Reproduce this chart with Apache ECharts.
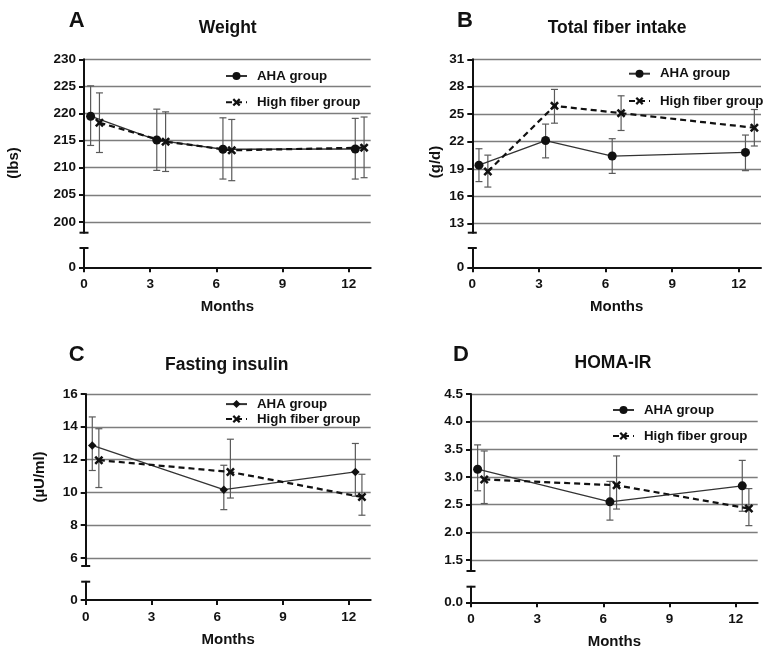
<!DOCTYPE html>
<html>
<head>
<meta charset="utf-8">
<script src="https://cdn.jsdelivr.net/npm/echarts@6/dist/echarts.min.js"></script>
<style>
  html, body { margin: 0; padding: 0; background: #fff; }
  #main { width: 773px; height: 656px; }
</style>
</head>
<body>
<div id="main"></div>
<script>
// visit months
var monthsAB = [0, 3, 6, 12];
var monthsCD = [0, 6, 12];
var monthTicks = [0, 3, 6, 9, 12];

// A - weight (lbs): mean, lower and upper error bar ends
var weightAha = [219.5, 215.1, 213.4, 213.45];
var weightAhaLo = [214.1, 209.5, 207.9, 207.9];
var weightAhaHi = [225.1, 220.8, 219.2, 219.1];
var weightHf = [218.3, 214.8, 213.2, 213.7];
var weightHfLo = [212.8, 209.3, 207.6, 208.15];
var weightHfHi = [223.8, 220.3, 218.9, 219.35];
var weightTicks = [200, 205, 210, 215, 220, 225, 230];

// B - total fiber intake (g/d)
var fiberAha = [19.4, 22.1, 20.4, 20.8];
var fiberAhaLo = [17.6, 20.2, 18.5, 18.8];
var fiberAhaHi = [21.2, 23.9, 22.3, 22.7];
var fiberHf = [18.7, 25.9, 25.1, 23.5];
var fiberHfLo = [17.0, 24.0, 23.2, 21.5];
var fiberHfHi = [20.5, 27.7, 27.0, 25.5];
var fiberTicks = [13, 16, 19, 22, 25, 28, 31];

// C - fasting insulin (uU/ml)
var insulinAha = [12.86, 10.16, 11.24];
var insulinAhaLo = [11.33, 8.94, 9.76];
var insulinAhaHi = [14.6, 11.65, 12.98];
var insulinHf = [11.96, 11.24, 9.71];
var insulinHfLo = [10.29, 9.65, 8.6];
var insulinHfHi = [13.88, 13.24, 11.1];
var insulinTicks = [6, 8, 10, 12, 14, 16];

// D - HOMA-IR
var homaAha = [3.14, 2.55, 2.84];
var homaAhaLo = [2.75, 2.22, 2.38];
var homaAhaHi = [3.58, 2.92, 3.3];
var homaHf = [2.955, 2.85, 2.43];
var homaHfLo = [2.52, 2.42, 2.12];
var homaHfHi = [3.47, 3.38, 2.79];
var homaTicks = [1.5, 2.0, 2.5, 3.0, 3.5, 4.0, 4.5];

var FONT = '"Liberation Sans", Arial, sans-serif';
var CROSS = 'path://M0,2 L2,0 L5,3 L8,0 L10,2 L7,5 L10,8 L8,10 L5,7 L2,10 L0,8 L3,5 Z';

var panels = [
    { key: 'A', title: 'Weight', unit: '(lbs)', months: monthsAB,
      aha: weightAha, ahaLo: weightAhaLo, ahaHi: weightAhaHi,
      hf: weightHf, hfLo: weightHfLo, hfHi: weightHfHi,
      ticks: weightTicks, yMin: 198, yMax: 230, digits: 0, ahaSymbol: 'circle', hfShift: 0.7,
      up: { left: 84, top: 59.3, width: 286.7, height: 173.4 }, low: { top: 248, height: 19.3 },
      letter: [76.7, 20.7], titlePos: [227.7, 28.3], unitPos: [14, 163],
      legend: { left: 225, top: 69.5, itemGap: 13.3 } },
    { key: 'B', title: 'Total fiber intake', unit: '(g/d)', months: monthsAB,
      aha: fiberAha, ahaLo: fiberAhaLo, ahaHi: fiberAhaHi,
      hf: fiberHf, hfLo: fiberHfLo, hfHi: fiberHfHi,
      ticks: fiberTicks, yMin: 12, yMax: 31, digits: 0, ahaSymbol: 'circle', hfShift: 0.7,
      up: { left: 472.3, top: 59.3, width: 288.7, height: 173.4 }, low: { top: 248, height: 19.3 },
      letter: [465, 20.7], titlePos: [617, 28.3], unitPos: [436, 162],
      legend: { left: 628, top: 67.2, itemGap: 14.2 } },
    { key: 'C', title: 'Fasting insulin', unit: '(\u00b5U/ml)', months: monthsCD,
      aha: insulinAha, ahaLo: insulinAhaLo, ahaHi: insulinAhaHi,
      hf: insulinHf, hfLo: insulinHfLo, hfHi: insulinHfHi,
      ticks: insulinTicks, yMin: 5.5, yMax: 16, digits: 0, ahaSymbol: 'diamond', hfShift: 0.6,
      up: { left: 85.7, top: 394, width: 285, height: 172 }, low: { top: 581.7, height: 18.3 },
      letter: [76.7, 355], titlePos: [226.7, 365], unitPos: [40, 477],
      legend: { left: 225, top: 397.6, itemGap: 2 } },
    { key: 'D', title: 'HOMA-IR', unit: '', months: monthsCD,
      aha: homaAha, ahaLo: homaAhaLo, ahaHi: homaAhaHi,
      hf: homaHf, hfLo: homaHfLo, hfHi: homaHfHi,
      ticks: homaTicks, yMin: 1.3, yMax: 4.5, digits: 1, ahaSymbol: 'circle', hfShift: 0.6,
      up: { left: 471, top: 394, width: 286.7, height: 177 }, low: { top: 586.7, height: 15.6 },
      letter: [461, 355], titlePos: [613, 363.3], unitPos: [0, 0],
      legend: { left: 612, top: 403.5, itemGap: 13 } }
];

var AHA_SHIFT = 0.3;

function points(months, values, shift) {
    return months.map(function (m, i) { return [m + shift, values[i]]; });
}
function bars(months, lo, hi, shift) {
    return months.map(function (m, i) { return [m + shift, lo[i], hi[i]]; });
}

function errorBar(params, api) {
    var x = api.value(0);
    var lo = api.coord([x, api.value(1)]);
    var hi = api.coord([x, api.value(2)]);
    var w = 3.5;
    var st = { stroke: '#5a5a5a', lineWidth: 1.2 };
    return {
        type: 'group',
        children: [
            { type: 'line', shape: { x1: lo[0], y1: lo[1], x2: hi[0], y2: hi[1] }, style: st },
            { type: 'line', shape: { x1: lo[0] - w, y1: lo[1], x2: lo[0] + w, y2: lo[1] }, style: st },
            { type: 'line', shape: { x1: hi[0] - w, y1: hi[1], x2: hi[0] + w, y2: hi[1] }, style: st }
        ]
    };
}

var grids = [], xAxes = [], yAxes = [], series = [], legends = [], graphics = [];
var axisLine = { show: true, lineStyle: { color: '#111', width: 2 } };
var labelStyle = { color: '#111', fontFamily: FONT, fontWeight: 'bold', fontSize: 13.5 };

panels.forEach(function (p, i) {
    var u = i * 2, l = i * 2 + 1;
    grids.push({ left: p.up.left, top: p.up.top, width: p.up.width, height: p.up.height, outerBoundsMode: 'none' });
    grids.push({ left: p.up.left, top: p.low.top, width: p.up.width, height: p.low.height, outerBoundsMode: 'none' });

    xAxes.push({ type: 'value', gridIndex: u, min: 0, max: 13, show: false });
    xAxes.push({
        type: 'value', gridIndex: l, min: 0, max: 13,
        name: 'Months', nameLocation: 'middle', nameGap: 32,
        nameTextStyle: { color: '#111', fontFamily: FONT, fontWeight: 'bold', fontSize: 15 },
        axisLine: axisLine,
        axisTick: { show: true, length: 5, customValues: monthTicks, lineStyle: { color: '#111', width: 2 } },
        axisLabel: Object.assign({ margin: 10, customValues: monthTicks }, labelStyle),
        splitLine: { show: false }
    });

    yAxes.push({
        type: 'value', gridIndex: u, min: p.yMin, max: p.yMax,
        axisLine: { show: true, symbol: ['rect', 'none'], symbolSize: [9, 2], lineStyle: { color: '#111', width: 2 } },
        axisTick: { show: true, length: 5, customValues: p.ticks, lineStyle: { color: '#111', width: 2 } },
        axisLabel: Object.assign({ margin: 8, customValues: p.ticks, formatter: function (v) { return v.toFixed(p.digits); } }, labelStyle),
        splitLine: { show: true, lineStyle: { color: '#7d7d7d', width: 1.3 } }
    });
    yAxes.push({
        type: 'value', gridIndex: l, min: 0, max: 1,
        axisLine: { show: true, symbol: ['none', 'rect'], symbolSize: [9, 2], lineStyle: { color: '#111', width: 2 } },
        axisTick: { show: true, length: 5, customValues: [0], lineStyle: { color: '#111', width: 2 } },
        axisLabel: Object.assign({ margin: 8, customValues: [0], formatter: function (v) { return v.toFixed(p.digits); } }, labelStyle),
        splitLine: { show: false }
    });

    var ahaName = p.key + '|AHA group';
    var hfName = p.key + '|High fiber group';
    series.push({
        type: 'custom', xAxisIndex: u, yAxisIndex: u, renderItem: errorBar,
        encode: { x: 0, y: [1, 2] }, data: bars(p.months, p.ahaLo, p.ahaHi, AHA_SHIFT), z: 2, silent: true
    });
    series.push({
        type: 'custom', xAxisIndex: u, yAxisIndex: u, renderItem: errorBar,
        encode: { x: 0, y: [1, 2] }, data: bars(p.months, p.hfLo, p.hfHi, p.hfShift), z: 2, silent: true
    });
    series.push({
        name: ahaName, type: 'line', xAxisIndex: u, yAxisIndex: u,
        data: points(p.months, p.aha, AHA_SHIFT),
        symbol: p.ahaSymbol, symbolSize: p.ahaSymbol === 'diamond' ? 8.5 : 9,
        itemStyle: { color: '#111' }, lineStyle: { color: '#333', width: 1.3 }, z: 3
    });
    series.push({
        name: hfName, type: 'line', xAxisIndex: u, yAxisIndex: u,
        data: points(p.months, p.hf, p.hfShift),
        symbol: CROSS, symbolSize: 9,
        itemStyle: { color: '#111' }, lineStyle: { color: '#111', width: 2.2, type: [6, 4] }, z: 4
    });

    legends.push({
        data: [ahaName, hfName], orient: 'vertical', left: p.legend.left, top: p.legend.top,
        padding: 0, itemGap: p.legend.itemGap, itemWidth: 21, itemHeight: 10, selectedMode: false,
        formatter: function (n) { return n.split('|')[1]; },
        textStyle: { color: '#111', fontFamily: FONT, fontWeight: 'bold', fontSize: 13.3, padding: [0, 0, 0, 5] }
    });

    graphics.push({ type: 'text', x: p.letter[0], y: p.letter[1],
        style: { text: p.key, font: 'bold 22px ' + FONT, fill: '#111', align: 'center', verticalAlign: 'middle', textAlign: 'center', textVerticalAlign: 'middle' } });
    graphics.push({ type: 'text', x: p.titlePos[0], y: p.titlePos[1],
        style: { text: p.title, font: 'bold 17.5px ' + FONT, fill: '#111', align: 'center', verticalAlign: 'middle', textAlign: 'center', textVerticalAlign: 'middle' } });
    if (p.unit) {
        graphics.push({ type: 'text', x: p.unitPos[0], y: p.unitPos[1], rotation: Math.PI / 2,
            style: { text: p.unit, font: 'bold 15px ' + FONT, fill: '#111', align: 'center', verticalAlign: 'middle', textAlign: 'center', textVerticalAlign: 'middle' } });
    }
});

var chart = echarts.init(document.getElementById('main'));
chart.setOption({
    animation: false,
    backgroundColor: '#fff',
    grid: grids,
    xAxis: xAxes,
    yAxis: yAxes,
    legend: legends,
    graphic: graphics,
    series: series
});
</script>
</body>
</html>
